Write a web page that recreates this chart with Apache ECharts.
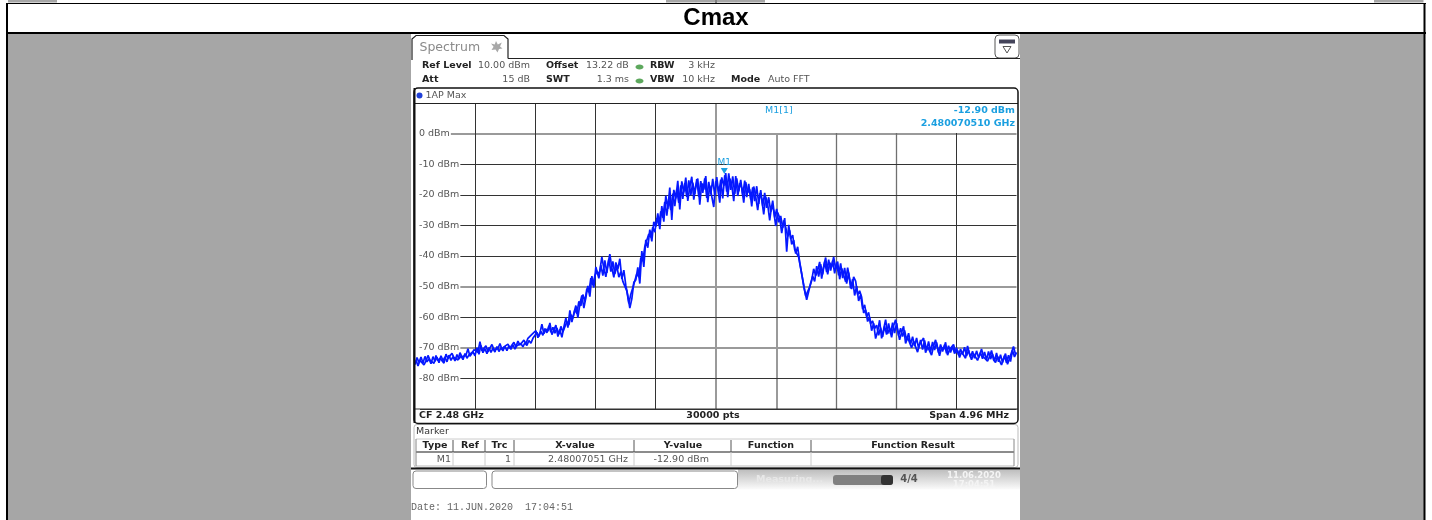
<!DOCTYPE html>
<html>
<head>
<meta charset="utf-8">
<title>Cmax</title>
<style>
  html, body { margin: 0; padding: 0; background: #fff; }
  #chart { width: 1432px; height: 520px; }
</style>
<script src="https://cdn.jsdelivr.net/npm/echarts@6/dist/echarts.min.js"></script>
</head>
<body>
<div id="chart"></div>
<script>
// dBm, one reading every 2 px of the trace, left to right
const traceDbm = [
  -75.5,-73.2,-74.8,-73.0,-75.0,-72.8,-74.6,-73.6,-75.2,-72.9,-74.4,-73.1,-74.9,-72.6,-74.2,
  -73.0,-74.6,-72.4,-74.1,-72.9,-74.3,-72.2,-73.7,-72.6,-73.9,-71.9,-73.4,-72.3,-72.9,-71.3,
  -72.6,-70.0,-72.1,-69.2,-71.6,-70.3,-71.9,-69.9,-71.5,-70.2,-71.4,-69.6,-71.2,-70.0,-71.0,
  -69.5,-70.9,-69.4,-70.5,-69.0,-70.4,-69.3,-69.9,-68.6,-69.7,-68.4,-69.2,-67.6,-68.5,-66.9,
  -67.4,-65.0,-66.3,-64.6,-65.9,-63.7,-65.1,-62.8,-64.9,-63.3,-65.2,-63.5,-65.6,-63.0,-64.8,
  -64.5,-61.5,-62.6,-59.2,-60.4,-57.6,-58.8,-54.8,-56.3,-52.6,-54.9,-50.7,-51.8,-47.2,-49.6,
  -46.5,
  -44.8,-47.3,-43.0,-46.4,-41.4,-45.5,-41.0,-45.1,-41.8,-45.9,-43.2,-46.9,-45.2,-48.3,-48.0,
  -51.4,-55.5,-52.5,-50.4,-50.9,-45.8,-46.9,-40.5,-41.7,-36.9,-36.4,-32.8,-33.9,-30.6,-32.2,
  -27.6,-29.9,-25.4,-27.5,-22.3,-26.8,-21.4,-25.0,-19.6,-23.7,-18.2,-22.6,-16.9,-21.3,-16.2,
  -20.7,-15.3,-20.2,-16.0,-19.8,-14.9,-20.6,-15.5,-19.4,-14.6,-21.0,-15.8,-19.9,-14.8,-20.3,
  -14.2,-19.6,-15.0,-21.2,-13.6,-19.0,-13.0,-18.4,-14.0,-19.7,-14.6,-18.9,-15.1,-20.2,-15.4,
  -20.8,-16.4,-21.5,-17.6,-22.1,-17.2,-23.0,-18.5,-23.6,-19.4,-24.3,-20.8,-25.6,-21.9,-27.4,
  -24.6,-29.0,-26.9,-30.8,-27.6,-38.6,-29.8,-34.4,-33.2,-37.9,-37.5,-40.4,-44.0,-47.6,-51.2,
  -54.3,-51.6,-48.8,-46.6,-48.3,-43.3,-46.7,-42.7,-46.0,-41.8,-45.3,-41.2,-44.8,-41.5,-45.7,
  -42.2,-46.3,-42.4,-47.2,-43.9,-49.0,-45.4,-50.6,-47.6,-52.9,-49.8,-54.7,-52.6,-57.4,-56.0,
  -59.8,-58.4,-62.1,-61.2,-63.7,-62.6,-65.9,-63.4,-66.4,-62.9,-65.7,-62.0,-65.4,-61.8,-65.2,
  -61.9,-66.0,-63.6,-66.3,-64.3,-67.5,-65.2,-68.8,-66.4,-69.4,-66.8,-70.2,-67.4,-70.6,-67.6,
  -70.9,-67.9,-71.3,-68.1,-70.7,-68.2,-71.6,-68.9,-71.2,-69.0,-71.8,-69.3,-71.5,-69.6,-71.9,
  -70.0,-72.4,-70.4,-72.2,-69.8,-72.7,-70.8,-73.0,-71.1,-73.4,-71.0,-73.2,-71.6,-73.6,-71.4,
  -73.9,-71.2,-73.7,-72.0,-74.3,-71.7,-74.6,-72.3,-74.8,-72.6,-74.9,-72.4,-74.5,-70.8,-73.0,
  -71.5
];
// the readings in between, half a step later
const traceDbmBetween = [
  -74.0,-75.9,-74.1,-73.6,-75.6,-74.3,-72.5,-74.0,-73.8,-75.1,-72.5,-74.2,-73.4,-73.9,-75.0,
  -72.1,-73.5,-73.7,-71.8,-73.2,-72.8,-74.0,-71.6,-73.0,-72.5,-72.4,-70.3,-72.8,-71.8,-70.6,
  -71.2,-71.5,-68.0,-71.0,-70.6,-69.3,-71.3,-70.7,-68.9,-70.6,-70.9,-70.3,-68.6,-70.5,-69.7,
  -70.3,-68.8,-70.1,-69.8,-68.2,-69.7,-67.8,-69.1,-68.9,-67.5,-68.7,-66.9,-67.0,-65.6,-66.2,
  -64.4,-66.7,-65.2,-62.3,-65.4,-63.9,-64.6,-61.9,-65.7,-64.2,-62.6,-66.3,-64.0,-66.6,-63.2,
  -60.2,-63.4,-57.8,-61.6,-58.7,-56.2,-60.1,-55.7,-52.9,-57.0,-53.6,-49.8,-53.3,-46.6,-50.3,
  -43.6,-46.2,-44.9,-40.3,-44.0,-46.8,-42.8,-39.4,-43.9,-47.0,-42.1,-44.3,-40.9,-47.5,-44.6,
  -49.6,-53.0,-57.0,-54.0,-48.6,-47.8,-43.7,-49.0,-38.4,-43.6,-34.7,-37.3,-31.4,-35.2,-28.8,
  -30.4,-26.1,-31.2,-23.7,-28.8,-20.3,-24.6,-17.6,-28.2,-18.4,-21.2,-15.4,-24.8,-15.6,-19.2,
  -14.4,-22.0,-17.4,-14.1,-21.6,-17.2,-14.7,-23.2,-16.2,-18.3,-13.9,-22.4,-17.0,-16.4,-24.0,
  -15.6,-17.7,-22.6,-14.3,-17.1,-12.9,-20.8,-14.7,-16.6,-22.1,-13.9,-20.4,-16.3,-17.7,-22.6,
  -15.9,-19.3,-18.2,-23.8,-17.3,-20.6,-25.0,-19.5,-21.4,-26.4,-20.6,-23.2,-28.4,-23.4,-25.2,
  -30.2,-25.8,-27.5,-32.5,-28.4,-30.6,-33.6,-31.6,-36.2,-34.8,-39.2,-37.0,-42.0,-45.8,-49.8,
  -53.0,-53.6,-50.2,-48.0,-44.2,-46.4,-44.8,-41.9,-47.4,-43.4,-40.5,-46.0,-42.2,-43.6,-40.3,
  -44.2,-41.8,-47.6,-44.0,-44.6,-48.4,-43.8,-47.4,-50.8,-46.8,-48.2,-52.6,-51.4,-53.4,-58.6,
  -57.6,-61.4,-60.0,-64.4,-62.0,-67.0,-64.6,-61.0,-66.9,-64.0,-60.8,-65.4,-63.7,-66.6,-62.8,
  -60.8,-64.2,-67.4,-65.0,-63.0,-68.6,-66.6,-67.0,-70.0,-67.9,-68.2,-71.4,-68.8,-69.2,-66.8,
  -71.6,-69.6,-70.2,-72.4,-69.4,-67.4,-70.2,-72.6,-69.8,-70.6,-68.2,-72.4,-70.6,-70.4,-68.9,
  -71.6,-70.9,-73.2,-71.3,-71.0,-73.4,-69.4,-72.1,-73.9,-71.9,-72.2,-74.1,-72.4,-70.4,-73.0,
  -72.6,-74.4,-72.9,-70.9,-73.9,-74.8,-72.8,-73.4,-75.6,-73.6,-71.9,-75.4,-73.5,-73.8,-69.6,-72.2
];
const spanMhz = 4.96;
const divMhz = 0.496;
const refLevel = 10;
const bottomLevel = -90;
const markerOffsetMhz = 0.0705;
const markerDbm = -12.9;
// grid lines that come out heavier and grey in the screenshot
const heavyLevels = [0, -50, -70];
const heavyFreqs = [0, 0.496];
const midFreqs = [0.992, 1.488];
const darkFreqs = [-1.984, -1.488, -0.992, -0.496, 1.984];

const uiFont = '"DejaVu Sans", sans-serif';
const boldColor = '#222';
const plainColor = '#555';
const markerBlue = '#1a9fe0';
const traceBlue = '#0518ff';

const stepMhz = spanMhz / (traceDbm.length - 1);
const traceData = traceDbm.map((v, i) => [-spanMhz / 2 + i * stepMhz, v]);
const traceDataBetween = traceDbmBetween.map((v, i) => [-spanMhz / 2 + (i + 0.5) * stepMhz, v]);

function text (x, y, str, opts) {
  const o = opts || {};
  return {
    type: 'text',
    x: x,
    y: y,
    z: o.z || 10,
    silent: true,
    style: {
      text: str,
      fill: o.color || plainColor,
      font: (o.bold ? 'bold ' : '') + (o.size || 9.5) + 'px ' + (o.family || uiFont),
      align: o.align || 'left',
      verticalAlign: 'middle'
    }
  };
}
function rect (x, y, w, h, fill, opts) {
  const o = opts || {};
  return {
    type: 'rect',
    z: o.z || 5,
    silent: true,
    shape: { x: x, y: y, width: w, height: h, r: o.r || 0 },
    style: { fill: fill, stroke: o.stroke || null, lineWidth: o.lw || 1 }
  };
}
function hline (x1, x2, y, color, lw) {
  return {
    type: 'line',
    z: 6,
    silent: true,
    shape: { x1: x1, y1: y, x2: x2, y2: y },
    style: { stroke: color, lineWidth: lw || 1 }
  };
}
function vline (x, y1, y2, color, lw) {
  return {
    type: 'line',
    z: 6,
    silent: true,
    shape: { x1: x, y1: y1, x2: x, y2: y2 },
    style: { stroke: color, lineWidth: lw || 1 }
  };
}

const page = [
  // page table around the screenshot
  rect(8, 0, 49, 2.5, '#a6a6a6', { z: 1 }),
  rect(666, 0, 49, 2.5, '#a6a6a6', { z: 1 }),
  rect(717, 0, 48, 2.5, '#a6a6a6', { z: 1 }),
  rect(1374, 0, 49.5, 2.5, '#a6a6a6', { z: 1 }),
  rect(7, 34, 1417, 486, '#a6a6a6', { z: -2 }),
  rect(411, 34, 609, 486, '#fff', { z: -1 }),
  hline(6, 1426, 3.5, '#000', 1),
  hline(6, 1426, 33, '#000', 2),
  vline(7, 3, 520, '#000', 2),
  vline(1424.5, 3, 520, '#000', 2),
  vline(716, 0, 3, '#000', 1),
  text(716, 18, 'Cmax', { bold: true, size: 24, color: '#000', align: 'center', family: '"Liberation Sans", Arial, sans-serif' }),

  // tab
  hline(508, 1020, 58.5, '#222', 1.2),
  { type: 'polyline', z: 6, silent: true, shape: { points: [[412, 60], [412, 39], [416, 35.5], [504, 35.5], [508, 39], [508, 58.5]] }, style: { fill: null, stroke: '#222', lineWidth: 1.2 } },
  text(419.5, 47.5, 'Spectrum', { size: 12.5, color: '#8a8a8a' }),
  { type: 'polygon', z: 6, silent: true, shape: { points: [[496, 41], [497.8, 44.6], [501.8, 42.6], [500, 46.6], [502.5, 48.5], [499, 49], [497.5, 52.5], [495.5, 49.5], [491.5, 50], [493.6, 46.8], [491, 43.5], [494.7, 44.5]] }, style: { fill: '#a8a8a8' } },

  // softkey icon, top right
  rect(995, 35, 24, 23, '#fff', { r: 4, stroke: '#555', lw: 1 }),
  rect(999, 39.5, 16, 4, '#44445a', {}),
  { type: 'polygon', z: 6, silent: true, shape: { points: [[1003, 46.5], [1011, 46.5], [1007, 53]] }, style: { fill: '#fff', stroke: '#555', lineWidth: 1 } },

  // setting rows
  text(422, 66, 'Ref Level', { bold: true, color: boldColor }),
  text(478, 66, '10.00 dBm'),
  text(546, 66, 'Offset', { bold: true, color: boldColor }),
  text(586, 66, '13.22 dB'),
  { type: 'ellipse', z: 6, silent: true, shape: { cx: 639.5, cy: 67, rx: 4, ry: 2.5 }, style: { fill: '#5da85d' } },
  text(650, 66, 'RBW', { bold: true, color: boldColor }),
  text(715, 66, '3 kHz', { align: 'right' }),
  text(422, 80, 'Att', { bold: true, color: boldColor }),
  text(530, 80, '15 dB', { align: 'right' }),
  text(546, 80, 'SWT', { bold: true, color: boldColor }),
  text(629, 80, '1.3 ms', { align: 'right' }),
  { type: 'ellipse', z: 6, silent: true, shape: { cx: 639.5, cy: 81, rx: 4, ry: 2.5 }, style: { fill: '#5da85d' } },
  text(650, 80, 'VBW', { bold: true, color: boldColor }),
  text(715, 80, '10 kHz', { align: 'right' }),
  text(731, 80, 'Mode', { bold: true, color: boldColor }),
  text(768, 80, 'Auto FFT'),

  // diagram frame
  rect(414, 88, 604, 335.5, 'transparent', { r: 4, stroke: '#111', lw: 1.5, z: 7 }),
  hline(414, 1018, 103.5, '#222', 1),
  hline(414, 1018, 409, '#333', 1.2),
  vline(414.5, 88, 423, '#111', 2),
  { type: 'circle', z: 6, silent: true, shape: { cx: 419.5, cy: 95.5, r: 3 }, style: { fill: '#2040d8' } },
  text(425.5, 95.5, '1AP Max'),
  text(419, 416, 'CF 2.48 GHz', { bold: true, color: boldColor }),
  text(713, 416, '30000 pts', { bold: true, color: boldColor, align: 'center' }),
  text(1009, 416, 'Span 4.96 MHz', { bold: true, color: boldColor, align: 'right' }),

  // marker readout, hides the top of the grid on the right
  rect(717.5, 104, 299, 29, '#fff', { z: 4 }),
  text(765, 111, 'M1[1]', { color: markerBlue }),
  text(1015, 111, '-12.90 dBm', { color: markerBlue, align: 'right', bold: true }),
  text(1015, 124, '2.480070510 GHz', { color: markerBlue, align: 'right', bold: true }),

  // marker table
  rect(414, 424.5, 604, 43, 'transparent', { r: 3, stroke: '#bbb', lw: 1 }),
  hline(411, 1020, 468.5, '#111', 2),
  text(416, 432, 'Marker', { color: '#333' }),
  rect(416, 439, 598, 13, '#fff', {}),
  hline(416, 1014, 439, '#ccc', 1),
  hline(416, 1014, 452, '#666', 1.4),
  hline(416, 1014, 466, '#bbb', 1),
  vline(416, 439, 466, '#888', 1),
  vline(1014, 439, 466, '#888', 1),
  ...[453, 485, 514, 634, 731, 811].map(x => vline(x, 440, 452, '#555', 1)),
  ...[453, 485, 514, 634, 731, 811].map(x => vline(x, 452, 466, '#ccc', 1)),
  text(435, 446, 'Type', { bold: true, color: boldColor, align: 'center' }),
  text(470, 446, 'Ref', { bold: true, color: boldColor, align: 'center' }),
  text(499.5, 446, 'Trc', { bold: true, color: boldColor, align: 'center' }),
  text(575, 446, 'X-value', { bold: true, color: boldColor, align: 'center' }),
  text(683, 446, 'Y-value', { bold: true, color: boldColor, align: 'center' }),
  text(771, 446, 'Function', { bold: true, color: boldColor, align: 'center' }),
  text(913, 446, 'Function Result', { bold: true, color: boldColor, align: 'center' }),
  text(451, 459.5, 'M1', { align: 'right' }),
  text(511, 459.5, '1', { align: 'right' }),
  text(628, 459.5, '2.48007051 GHz', { align: 'right' }),
  text(709, 459.5, '-12.90 dBm', { align: 'right' }),

  // status bar
  rect(413, 471, 73.5, 17.5, '#fff', { r: 3, stroke: '#888', lw: 1 }),
  rect(492, 471, 245.5, 17.5, '#fff', { r: 3, stroke: '#888', lw: 1 }),
  {
    type: 'rect',
    z: 4,
    silent: true,
    shape: { x: 738, y: 469.5, width: 282, height: 20 },
    style: { fill: new echarts.graphic.LinearGradient(0, 0, 0, 1, [{ offset: 0, color: '#bdbdbd' }, { offset: 1, color: '#fbfbfb' }]) }
  },
  text(756, 480, 'Measuring...', { color: '#e8e8e8', bold: true }),
  rect(833, 475, 60, 10, '#808080', { r: 3 }),
  rect(881, 475, 12, 10, '#333', { r: 3 }),
  text(909, 479.5, '4/4', { color: '#555', bold: true, size: 10, align: 'center' }),
  text(974, 476, '11.06.2020', { color: '#f4f4f4', bold: true, size: 8.5, align: 'center' }),
  text(974, 484.5, '17:04:51', { color: '#f4f4f4', bold: true, size: 8.5, align: 'center' }),

  text(411, 507.5, 'Date: 11.JUN.2020  17:04:51', { size: 10, color: '#666', family: '"Liberation Mono", monospace' })
];

// the heavy lines are drawn by the series markLine, so the tick colours leave them out
const levelColors = [];
for (let v = bottomLevel; v <= refLevel; v += 10) {
  levelColors.push(heavyLevels.indexOf(v) >= 0 ? 'transparent' : '#333');
}
const freqColors = [];
for (let i = 0; i <= 10; i++) {
  const f = Math.round((-spanMhz / 2 + i * divMhz) * 1000) / 1000;
  freqColors.push(darkFreqs.indexOf(f) >= 0 ? '#333' : 'transparent');
}

const chart = echarts.init(document.getElementById('chart'), null, { renderer: 'canvas' });
chart.setOption({
  animation: false,
  backgroundColor: '#fff',
  grid: { left: 415, top: 103, width: 601.5, height: 306 },
  xAxis: {
    type: 'value',
    min: -spanMhz / 2,
    max: spanMhz / 2,
    interval: divMhz,
    z: 1,
    axisLine: { show: false },
    axisTick: { show: false },
    axisLabel: { show: false },
    splitLine: { show: true, lineStyle: { color: freqColors, width: 1 } }
  },
  yAxis: {
    type: 'value',
    min: bottomLevel,
    max: refLevel,
    interval: 10,
    z: 1,
    axisLine: { show: false },
    axisTick: { show: false },
    axisLabel: {
      inside: true,
      margin: 0,
      color: '#555',
      fontFamily: 'DejaVu Sans',
      fontSize: 9.5,
      backgroundColor: '#fff',
      padding: [2, 1, 0, 4],
      formatter: function (v) {
        return v === refLevel || v === bottomLevel ? '' : v + ' dBm';
      }
    },
    splitLine: { show: true, lineStyle: { color: levelColors, width: 1 } }
  },
  series: [{
    type: 'line',
    data: traceData,
    showSymbol: false,
    z: 2,
    lineStyle: { color: traceBlue, width: 1.7 },
    markLine: {
      silent: true,
      z: 0,
      symbol: 'none',
      label: { show: false },
      lineStyle: { type: 'solid', color: '#9a9a9a', width: 2 },
      data: heavyLevels.map(v => ({ yAxis: v }))
        .concat(heavyFreqs.map(f => ({ xAxis: f })))
        .concat(midFreqs.map(f => ({ xAxis: f, lineStyle: { color: '#707070', width: 1.3 } })))
    },
    markPoint: {
      silent: true,
      symbol: 'triangle',
      symbolRotate: 180,
      symbolSize: [7, 6],
      symbolOffset: [0, -2],
      itemStyle: { color: markerBlue },
      label: { show: true, position: 'top', distance: 1, formatter: 'M1', color: markerBlue, fontFamily: 'DejaVu Sans', fontSize: 9 },
      data: [{ coord: [markerOffsetMhz, markerDbm] }]
    }
  }, {
    type: 'line',
    data: traceDataBetween,
    showSymbol: false,
    z: 2,
    lineStyle: { color: traceBlue, width: 1.7 }
  }],
  graphic: { elements: page }
});
</script>
</body>
</html>
